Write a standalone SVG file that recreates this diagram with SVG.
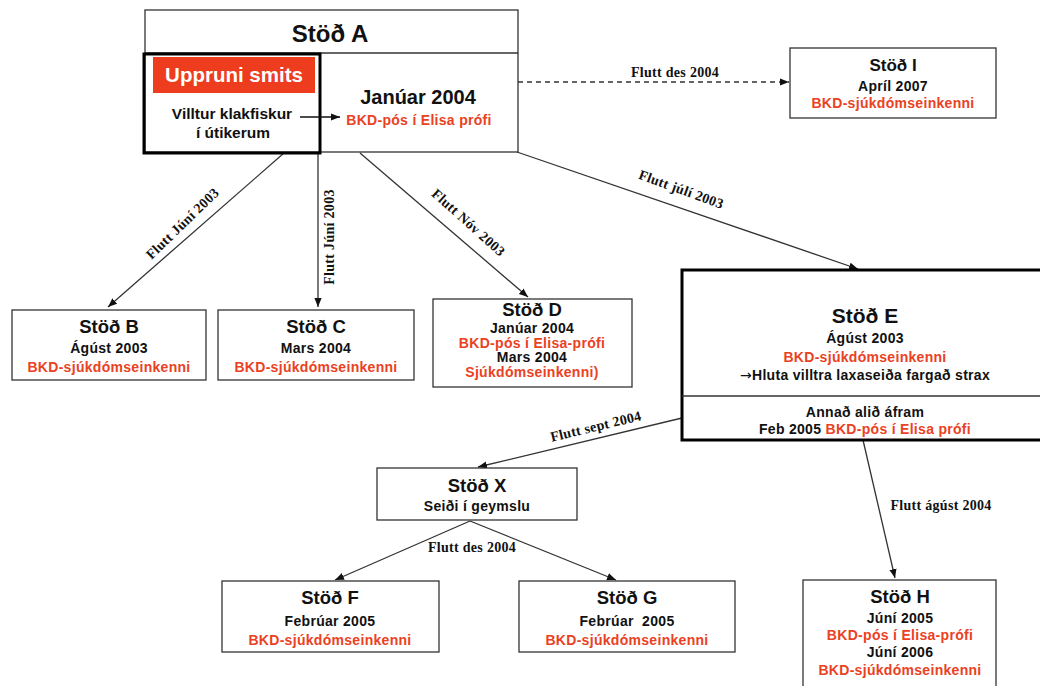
<svg xmlns="http://www.w3.org/2000/svg" width="1040" height="686" viewBox="0 0 1040 686">
<defs>
<marker id="ah" viewBox="0 0 10 10" refX="10" refY="5" markerWidth="9" markerHeight="9" markerUnits="userSpaceOnUse" orient="auto"><path d="M0,1 L10,5 L0,9 z" fill="#111"/></marker>
<style>
.box{fill:#fff;stroke:#333;stroke-width:1.3}
.thick{fill:none;stroke:#000;stroke-width:3}
.t{font-family:"Liberation Sans",Arial,sans-serif;font-weight:bold;text-anchor:middle;fill:#111}
.h{font-size:18.5px}
.s{font-size:14px;letter-spacing:0.3px}
.r{fill:#EB4123}
.lbl{font-family:"Liberation Serif","Times New Roman",serif;font-weight:bold;font-size:14px;letter-spacing:0.3px;text-anchor:middle;fill:#111}
.c{fill:none;stroke:#333;stroke-width:1.3;marker-end:url(#ah)}
</style>
</defs>
<rect width="1040" height="686" fill="#fff"/>

<g id="connectors">
<line class="c" x1="518" y1="82" x2="789" y2="82" stroke-dasharray="5,4"/>
<line class="c" x1="284" y1="153" x2="108" y2="307"/>
<line class="c" x1="318" y1="153" x2="318" y2="307"/>
<line class="c" x1="360" y1="153" x2="528" y2="297"/>
<line class="c" x1="517" y1="152" x2="858" y2="269"/>
<line class="c" x1="682" y1="418" x2="478" y2="467"/>
<line class="c" x1="863" y1="440" x2="895" y2="578"/>
<line class="c" x1="470" y1="521" x2="335" y2="580"/>
<line class="c" x1="470" y1="521" x2="616" y2="580"/>
<text class="lbl" x="675" y="77">Flutt des 2004</text>
<text class="lbl" x="183" y="228" transform="rotate(-44 183 224)">Flutt Júní 2003</text>
<text class="lbl" x="330" y="241" transform="rotate(-90 330 237)">Flutt Júní 2003</text>
<text class="lbl" x="468" y="227" transform="rotate(42 468 223)">Flutt Nóv 2003</text>
<text class="lbl" x="681" y="194" transform="rotate(20 681 190)">Flutt júlí 2003</text>
<text class="lbl" x="596" y="431" transform="rotate(-13.5 596 427)">Flutt sept 2004</text>
<text class="lbl" x="941" y="510">Flutt ágúst 2004</text>
<text class="lbl" x="472" y="552">Flutt des 2004</text>
</g>

<g id="stod-a">
<rect class="box" x="145" y="10" width="373" height="142"/>
<line x1="145" y1="53" x2="518" y2="53" stroke="#333" stroke-width="1.3"/>
<text class="t" x="330" y="42" style="font-size:24px">Stöð A</text>
<rect class="thick" x="144" y="54" width="176" height="99"/>
<rect x="153" y="57" width="162" height="36" fill="#EE3C1E"/>
<text class="t" x="234" y="82" style="font-size:20.5px;fill:#fff">Uppruni smits</text>
<text class="t" x="232" y="119" style="font-size:15.5px">Villtur klakfiskur</text>
<text class="t" x="233" y="138" style="font-size:15.5px">í útikerum</text>
<line x1="300" y1="117" x2="340" y2="117" stroke="#111" stroke-width="1.3" marker-end="url(#ah)"/>
<text class="t" x="418" y="104" style="font-size:20px">Janúar 2004</text>
<text class="t s r" x="419" y="125">BKD-pós í Elisa prófi</text>
</g>

<g id="stod-i">
<rect class="box" x="790" y="48" width="206" height="70"/>
<text class="t" x="893" y="71" style="font-size:17px">Stöð I</text>
<text class="t s" x="893" y="91">Apríl 2007</text>
<text class="t s r" x="893" y="108">BKD-sjúkdómseinkenni</text>
</g>

<g id="stod-b">
<rect class="box" x="12" y="310" width="194" height="70"/>
<text class="t h" x="109" y="333">Stöð B</text>
<text class="t s" x="109" y="353">Ágúst 2003</text>
<text class="t s r" x="109" y="372">BKD-sjúkdómseinkenni</text>
</g>

<g id="stod-c">
<rect class="box" x="218" y="310" width="196" height="70"/>
<text class="t h" x="316" y="333">Stöð C</text>
<text class="t s" x="316" y="353">Mars 2004</text>
<text class="t s r" x="316" y="372">BKD-sjúkdómseinkenni</text>
</g>

<g id="stod-d">
<rect class="box" x="433" y="299" width="199" height="88"/>
<text class="t h" x="532" y="316">Stöð D</text>
<text class="t s" x="532" y="333">Janúar 2004</text>
<text class="t s r" x="532" y="348">BKD-pós í Elisa-prófi</text>
<text class="t s" x="532" y="362">Mars 2004</text>
<text class="t s r" x="532" y="377">Sjúkdómseinkenni)</text>
</g>

<g id="stod-e">
<rect x="682" y="270" width="366" height="170" fill="#fff" stroke="#000" stroke-width="3"/>
<line x1="682" y1="396" x2="1040" y2="396" stroke="#333" stroke-width="1.3"/>
<text class="t" x="865" y="323" style="font-size:21px">Stöð E</text>
<text class="t s" x="865" y="343">Ágúst 2003</text>
<text class="t s r" x="865" y="362">BKD-sjúkdómseinkenni</text>
<text class="t s" x="865" y="380"><tspan style="font-family:'DejaVu Sans',sans-serif;font-weight:normal">→</tspan>Hluta villtra laxaseiða fargað strax</text>
<text class="t s" x="865" y="417">Annað alið áfram</text>
<text class="t s" x="865" y="434">Feb 2005 <tspan class="r">BKD-pós í Elisa prófi</tspan></text>
</g>

<g id="stod-x">
<rect class="box" x="377" y="468" width="200" height="52"/>
<text class="t h" x="477" y="492">Stöð X</text>
<text class="t s" x="477" y="511">Seiði í geymslu</text>
</g>

<g id="stod-f">
<rect class="box" x="222" y="581" width="217" height="71"/>
<text class="t h" x="330" y="604">Stöð F</text>
<text class="t s" x="330" y="626">Febrúar 2005</text>
<text class="t s r" x="330" y="645">BKD-sjúkdómseinkenni</text>
</g>

<g id="stod-g">
<rect class="box" x="519" y="581" width="216" height="71"/>
<text class="t h" x="627" y="604">Stöð G</text>
<text class="t s" x="627" y="626" xml:space="preserve">Febrúar  2005</text>
<text class="t s r" x="627" y="645">BKD-sjúkdómseinkenni</text>
</g>

<g id="stod-h">
<rect class="box" x="803" y="580" width="193" height="110"/>
<text class="t h" x="900" y="603">Stöð H</text>
<text class="t s" x="900" y="623">Júní 2005</text>
<text class="t s r" x="900" y="640">BKD-pós í Elisa-prófi</text>
<text class="t s" x="900" y="657">Júní 2006</text>
<text class="t s r" x="900" y="675">BKD-sjúkdómseinkenni</text>
</g>
</svg>
